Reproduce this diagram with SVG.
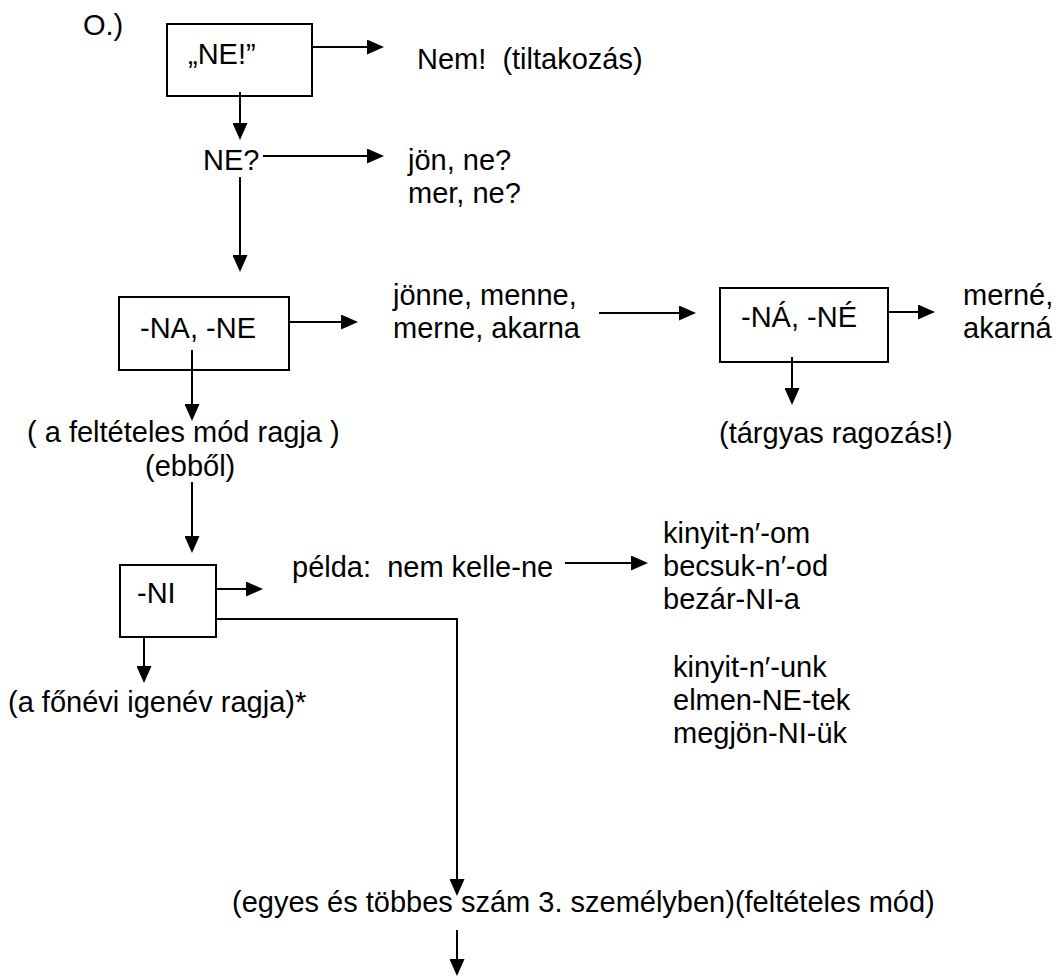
<svg xmlns="http://www.w3.org/2000/svg" width="1056" height="976" viewBox="0 0 1056 976">
<style>
text{font-family:"Liberation Sans",Arial,sans-serif;font-size:29px;fill:#000;white-space:pre}
.box{fill:#fff;stroke:#000;stroke-width:2}
.c{fill:none;stroke:#000;stroke-width:2}
</style>
<defs>
<marker id="ah" markerUnits="userSpaceOnUse" markerWidth="17" markerHeight="15" refX="0" refY="7.5" orient="auto">
<path d="M0,0 L17,7.5 L0,15 z" fill="#000"/>
</marker>
</defs>
<rect width="1056" height="976" fill="#fff"/>
<g id="label-o"><text x="83" y="35">O.)</text></g>
<g id="n-ne-excl"><rect class="box" x="167" y="24" width="145" height="72"/><text x="188" y="64">„NE!”</text></g>
<g id="t-nem"><text x="417" y="69" xml:space="preserve">Nem!  (tiltakozás)</text></g>
<g id="t-neq"><text x="203" y="170">NE?</text></g>
<g id="t-jon"><text x="408" y="170">jön, ne?</text><text x="408" y="203">mer, ne?</text></g>
<g id="n-na-ne"><rect class="box" x="119" y="297" width="170" height="73"/><text x="140" y="338">-NA, -NE</text></g>
<g id="t-jonne"><text x="393" y="305">jönne, menne,</text><text x="393" y="338">merne, akarna</text></g>
<g id="n-na-ne-acc"><rect class="box" x="720" y="288" width="168" height="74"/><text x="741" y="327">-NÁ, -NÉ</text></g>
<g id="t-merne"><text x="963" y="305">merné,</text><text x="963" y="338">akarná</text></g>
<g id="t-targyas"><text x="719" y="443">(tárgyas ragozás!)</text></g>
<g id="t-feltet"><text x="27" y="442" xml:space="preserve">( a feltételes mód ragja )</text><text x="145" y="476">(ebből)</text></g>
<g id="n-ni"><rect class="box" x="120" y="565" width="96" height="72"/><text x="137" y="603">-NI</text></g>
<g id="t-pelda"><text x="292" y="577" xml:space="preserve">példa:  nem kelle-ne</text></g>
<g id="t-kinyit"><text x="663" y="543">kinyit-n′-om</text><text x="663" y="576">becsuk-n′-od</text><text x="663" y="609">bezár-NI-a</text></g>
<g id="t-kinyit2"><text x="673" y="677">kinyit-n′-unk</text><text x="673" y="710">elmen-NE-tek</text><text x="673" y="743">megjön-NI-ük</text></g>
<g id="t-fonevi"><text x="8" y="712">(a főnévi igenév ragja)*</text></g>
<g id="t-egyes"><text x="232" y="912">(egyes és többes szám 3. személyben)(feltételes mód)</text></g>
<g id="connectors">
<line class="c" x1="312" y1="47" x2="367" y2="47" marker-end="url(#ah)"/>
<line class="c" x1="240" y1="92" x2="240" y2="123" marker-end="url(#ah)"/>
<line class="c" x1="263" y1="156" x2="367" y2="156" marker-end="url(#ah)"/>
<line class="c" x1="240" y1="177" x2="240" y2="255" marker-end="url(#ah)"/>
<line class="c" x1="289" y1="322" x2="341" y2="322" marker-end="url(#ah)"/>
<line class="c" x1="192" y1="350" x2="192" y2="404" marker-end="url(#ah)"/>
<line class="c" x1="599" y1="313" x2="679" y2="313" marker-end="url(#ah)"/>
<line class="c" x1="888" y1="312" x2="918" y2="312" marker-end="url(#ah)"/>
<line class="c" x1="792" y1="357" x2="792" y2="388" marker-end="url(#ah)"/>
<line class="c" x1="192" y1="482" x2="192" y2="536" marker-end="url(#ah)"/>
<line class="c" x1="216" y1="589" x2="246" y2="589" marker-end="url(#ah)"/>
<line class="c" x1="144" y1="637" x2="144" y2="666" marker-end="url(#ah)"/>
<polyline class="c" points="216,619 457,619 457,879" marker-end="url(#ah)"/>
<line class="c" x1="565" y1="563" x2="631" y2="563" marker-end="url(#ah)"/>
<line class="c" x1="457" y1="930" x2="457" y2="959" marker-end="url(#ah)"/>
</g>
</svg>
